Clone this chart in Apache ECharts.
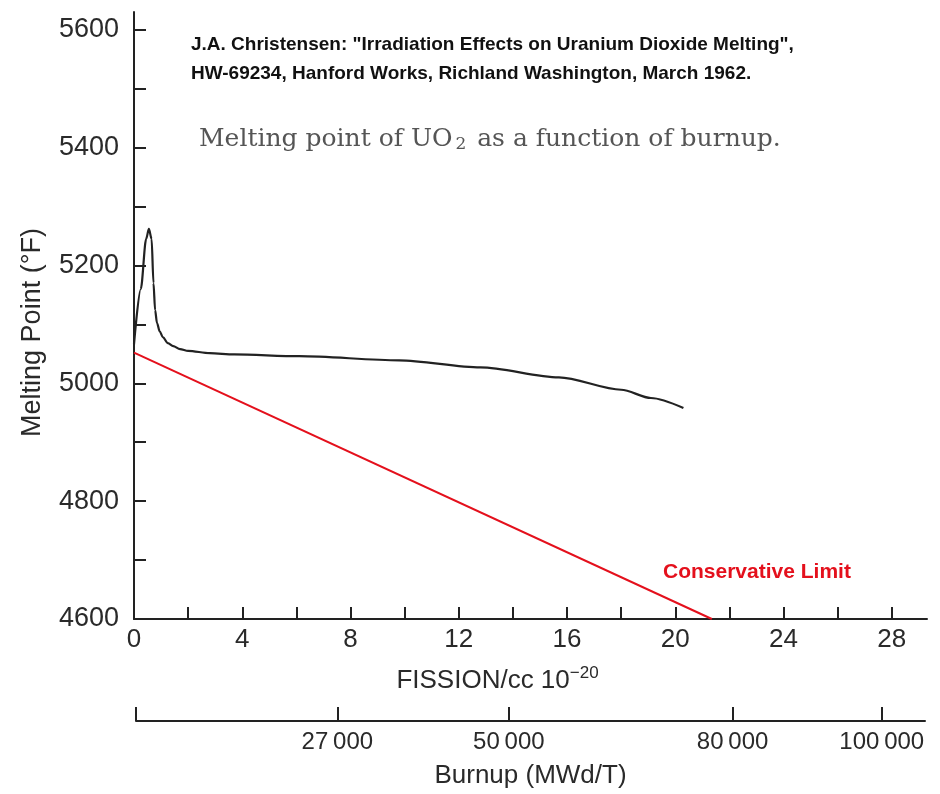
<!DOCTYPE html>
<html>
<head>
<meta charset="utf-8">
<script src="https://cdn.jsdelivr.net/npm/echarts@6/dist/echarts.min.js"></script>
<style>
  html, body { margin: 0; padding: 0; background: #ffffff; }
  #chart { width: 940px; height: 794px; }
</style>
</head>
<body>
<div id="chart"></div>
<script>
// Melting point of UO2 versus fission density (Christensen, HW-69234, 1962)
const curveFission = [0, 0.25, 0.45, 0.55, 0.65, 0.72, 0.78, 0.85, 0.95, 1.07, 1.25, 1.45, 1.7, 2.0, 2.8, 3.7, 6.1, 9.8, 12.8, 15.7, 18.0, 19.1, 20.3];
const curveMelting = [5066, 5160, 5245, 5262, 5245, 5170, 5124, 5102, 5088, 5078, 5068, 5063, 5058, 5055, 5051, 5049, 5046, 5039, 5027, 5010, 4989, 4975, 4958];

// Conservative limit line
const limitFission = [0, 21.35];
const limitMelting = [5052, 4600];

// Axis ticks and labels
const fissionTickValues = [2, 4, 6, 8, 10, 12, 14, 16, 18, 20, 22, 24, 26, 28];
const fissionLabelValues = [0, 4, 8, 12, 16, 20, 24, 28];
const meltTickValues = [4700, 4800, 4900, 5000, 5100, 5200, 5300, 5400, 5500, 5600];
const meltLabelValues = [4600, 4800, 5000, 5200, 5400, 5600];
const burnupTickValues = [0, 27000, 50000, 80000, 100000];
const burnupLabelValues = [27000, 50000, 80000, 100000];

const FISSION_MAX = 29.3;
const MELT_MIN = 4600;
const MELT_MAX = 5630;
const BURNUP_MAX = 105800;

const ink = '#2a2a2a';
const sansFont = "'Liberation Sans', Arial, sans-serif";
const serifFont = "'DejaVu Serif', 'Liberation Serif', serif";

const toPairs = (xs, ys) => xs.map((x, i) => [x, ys[i]]);
const groupThousands = v => String(v).replace(/\B(?=(\d{3})+(?!\d))/g, '\u2009');

const chart = echarts.init(document.getElementById('chart'), null, { renderer: 'canvas' });

chart.setOption({
  backgroundColor: '#ffffff',
  animation: false,
  title: [
    {
      text: 'J.A. Christensen: "Irradiation Effects on Uranium Dioxide Melting",\nHW-69234, Hanford Works, Richland Washington, March 1962.',
      left: 191,
      top: 30,
      padding: 0,
      textStyle: {
        fontFamily: sansFont,
        fontWeight: 'bold',
        fontSize: 19,
        lineHeight: 29,
        color: '#111111'
      }
    },
    {
      text: 'Melting point of UO{sub|2} as a function of burnup.',
      left: 199,
      top: 126,
      padding: 0,
      textStyle: {
        fontFamily: serifFont,
        fontWeight: 'normal',
        fontSize: 25,
        color: '#555555',
        rich: {
          sub: {
            fontFamily: serifFont,
            fontSize: 17,
            color: '#555555',
            padding: [10, 3, 0, 3]
          }
        }
      }
    }
  ],
  grid: [
    { left: 134, top: 12, width: 793, height: 607 },
    { left: 136, top: 700, width: 789, height: 21 }
  ],
  xAxis: [
    {
      type: 'value',
      gridIndex: 0,
      min: 0,
      max: FISSION_MAX,
      name: 'FISSION/cc 10{sup|−20}',
      nameLocation: 'middle',
      nameGap: 46,
      nameTextStyle: {
        fontFamily: sansFont,
        fontSize: 26,
        color: ink,
        padding: [0, 66, 0, 0],
        rich: {
          sup: { fontFamily: sansFont, fontSize: 17, color: ink, padding: [0, 0, 14, 0] }
        }
      },
      splitLine: { show: false },
      axisLine: { show: true, lineStyle: { color: '#222222', width: 2 } },
      axisTick: { show: true, inside: true, length: 12, customValues: fissionTickValues, lineStyle: { color: '#222222', width: 2 } },
      axisLabel: {
        customValues: fissionLabelValues,
        margin: 8,
        fontFamily: sansFont,
        fontSize: 26,
        color: ink
      }
    },
    {
      type: 'value',
      gridIndex: 1,
      position: 'bottom',
      min: 0,
      max: BURNUP_MAX,
      name: 'Burnup (MWd/T)',
      nameLocation: 'middle',
      nameGap: 42,
      nameTextStyle: { fontFamily: sansFont, fontSize: 26, color: ink },
      splitLine: { show: false },
      axisLine: { show: true, lineStyle: { color: '#222222', width: 2 } },
      axisTick: { show: true, inside: true, length: 14, customValues: burnupTickValues, lineStyle: { color: '#222222', width: 2 } },
      axisLabel: {
        customValues: burnupLabelValues,
        margin: 9,
        fontFamily: sansFont,
        fontSize: 24,
        color: ink,
        formatter: v => groupThousands(v)
      }
    }
  ],
  yAxis: [
    {
      type: 'value',
      gridIndex: 0,
      min: MELT_MIN,
      max: MELT_MAX,
      name: 'Melting Point (°F)',
      nameLocation: 'middle',
      nameGap: 88,
      nameTextStyle: {
        fontFamily: sansFont,
        fontSize: 27,
        color: ink,
        padding: [0, 34, 0, 0]
      },
      splitLine: { show: false },
      axisLine: { show: true, lineStyle: { color: '#222222', width: 2 } },
      axisTick: { show: true, inside: true, length: 12, customValues: meltTickValues, lineStyle: { color: '#222222', width: 2 } },
      axisLabel: {
        customValues: meltLabelValues,
        margin: 15,
        fontFamily: sansFont,
        fontSize: 27,
        color: ink,
        formatter: v => String(v)
      }
    },
    {
      type: 'value',
      gridIndex: 1,
      show: false,
      min: 0,
      max: 1
    }
  ],
  graphic: [
    {
      type: 'text',
      left: 663,
      top: 562,
      style: {
        text: 'Conservative Limit',
        fontFamily: sansFont,
        fontWeight: 'bold',
        fontSize: 21,
        fill: '#e4101c'
      }
    }
  ],
  series: [
    {
      name: 'Melting point',
      type: 'line',
      xAxisIndex: 0,
      yAxisIndex: 0,
      data: toPairs(curveFission, curveMelting),
      smooth: 0.3,
      smoothMonotone: 'x',
      showSymbol: false,
      lineStyle: { color: '#222222', width: 2.2 },
      z: 3
    },
    {
      name: 'Conservative Limit',
      type: 'line',
      xAxisIndex: 0,
      yAxisIndex: 0,
      data: toPairs(limitFission, limitMelting),
      showSymbol: false,
      lineStyle: { color: '#e4101c', width: 2 },
      z: 4
    }
  ]
});
</script>
</body>
</html>
